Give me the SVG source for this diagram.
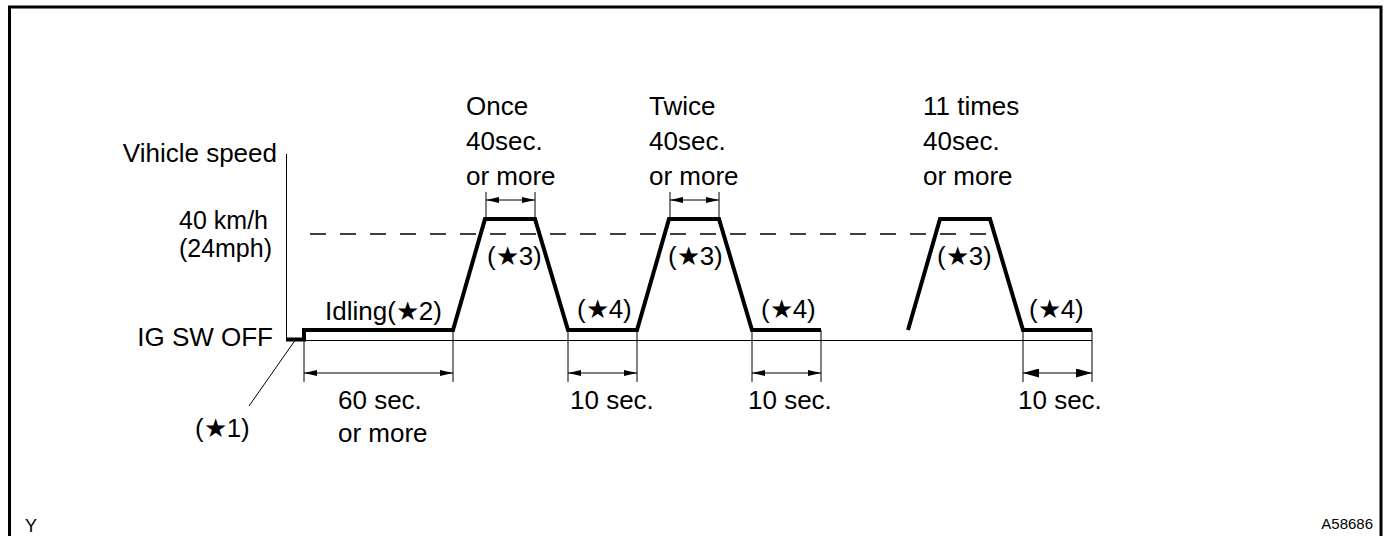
<svg xmlns="http://www.w3.org/2000/svg" width="1388" height="536" viewBox="0 0 1388 536">
<style>
text{font-family:"Liberation Sans",Arial,sans-serif;font-size:26px;fill:#000}
.thin{stroke:#000;stroke-width:1;fill:none}
.thick{stroke:#000;stroke-width:4;fill:none;stroke-linejoin:miter}
.dim{stroke:#000;stroke-width:1;fill:none;marker-start:url(#ah);marker-end:url(#ah)}
.dash{stroke:#000;stroke-width:1.5;fill:none;stroke-dasharray:16 14}
</style>
<defs>
<marker id="ah" viewBox="0 0 13 6" refX="13" refY="3" markerWidth="13" markerHeight="6" markerUnits="userSpaceOnUse" orient="auto-start-reverse">
<path d="M0,0 L13,3 L0,6 Z" fill="#000"/>
</marker>
<marker id="ahL" viewBox="0 0 16 9" refX="16" refY="4.5" markerWidth="16" markerHeight="9" markerUnits="userSpaceOnUse" orient="auto-start-reverse">
<path d="M0,0 L16,4.5 L0,9 Z" fill="#000"/>
</marker>
</defs>
<rect width="1388" height="536" fill="#fff"/>
<path d="M9.5,540 V7 H1381 V540" stroke="#000" stroke-width="3" fill="none"/>

<g id="axes">
<line class="thin" x1="286.5" y1="154" x2="286.5" y2="340.5"/>
<line class="thin" x1="286" y1="340.5" x2="1092" y2="340.5"/>
<line class="dash" x1="310" y1="234" x2="992" y2="234"/>
</g>

<g id="speed-profile">
<polyline class="thick" points="286,339.5 304,339.5 304,330 453,330 485,219 535,219 568,330 637,330 669,219 719,219 752,330 821,330"/>
<polyline class="thick" points="908,330 940,219 990,219 1023,330 1092,330"/>
</g>

<g id="connectors">
<line class="thin" x1="304" y1="330" x2="304" y2="382"/>
<line class="thin" x1="453" y1="330" x2="453" y2="382"/>
<line class="thin" x1="568" y1="330" x2="568" y2="382"/>
<line class="thin" x1="637" y1="330" x2="637" y2="382"/>
<line class="thin" x1="752" y1="330" x2="752" y2="382"/>
<line class="thin" x1="821" y1="330" x2="821" y2="382"/>
<line class="thin" x1="1023" y1="330" x2="1023" y2="382"/>
<line class="thin" x1="1092" y1="330" x2="1092" y2="382"/>
<line class="thin" x1="486" y1="192" x2="486" y2="219"/>
<line class="thin" x1="535" y1="192" x2="535" y2="219"/>
<line class="thin" x1="670" y1="192" x2="670" y2="219"/>
<line class="thin" x1="719" y1="192" x2="719" y2="219"/>
<line class="dim" x1="304" y1="373" x2="453" y2="373"/>
<line class="dim" x1="568" y1="373" x2="637" y2="373"/>
<line class="dim" x1="752" y1="373" x2="821" y2="373"/>
<line class="dim" x1="1023" y1="373" x2="1092" y2="373" style="marker-start:url(#ahL);marker-end:url(#ahL)"/>
<line class="dim" x1="486" y1="200" x2="535" y2="200"/>
<line class="dim" x1="670" y1="200" x2="719" y2="200"/>
<line class="thin" x1="296" y1="339" x2="249" y2="406"/>
</g>

<g id="labels-axis">
<text x="277" y="162" text-anchor="end">Vihicle speed</text>
<text x="268" y="229" text-anchor="end" style="font-size:25px">40 km/h</text>
<text x="272" y="257" text-anchor="end" style="font-size:25px">(24mph)</text>
<text x="273" y="346" text-anchor="end">IG SW OFF</text>
</g>
<g id="label-idling"><text x="325" y="320">Idling(★2)</text></g>
<g id="label-60sec"><text x="338" y="409">60 sec.</text><text x="338" y="442">or more</text></g>
<g id="label-star1"><text x="195" y="437">(★1)</text></g>
<g id="label-once"><text x="466" y="115">Once</text><text x="466" y="150">40sec.</text><text x="466" y="185">or more</text></g>
<g id="label-twice"><text x="649" y="115">Twice</text><text x="649" y="150">40sec.</text><text x="649" y="185">or more</text></g>
<g id="label-11times"><text x="923" y="115">11 times</text><text x="923" y="150">40sec.</text><text x="923" y="185">or more</text></g>
<g id="label-star3"><text x="487" y="265">(★3)</text><text x="668" y="265">(★3)</text><text x="937" y="265">(★3)</text></g>
<g id="label-star4"><text x="577" y="318">(★4)</text><text x="761" y="318">(★4)</text><text x="1029" y="318">(★4)</text></g>
<g id="label-10sec"><text x="570" y="409">10 sec.</text><text x="748" y="409">10 sec.</text><text x="1018" y="409">10 sec.</text></g>
<text x="25" y="532" style="font-size:18px">Y</text>
<text x="1373" y="529" text-anchor="end" style="font-size:15px">A58686</text>
</svg>
